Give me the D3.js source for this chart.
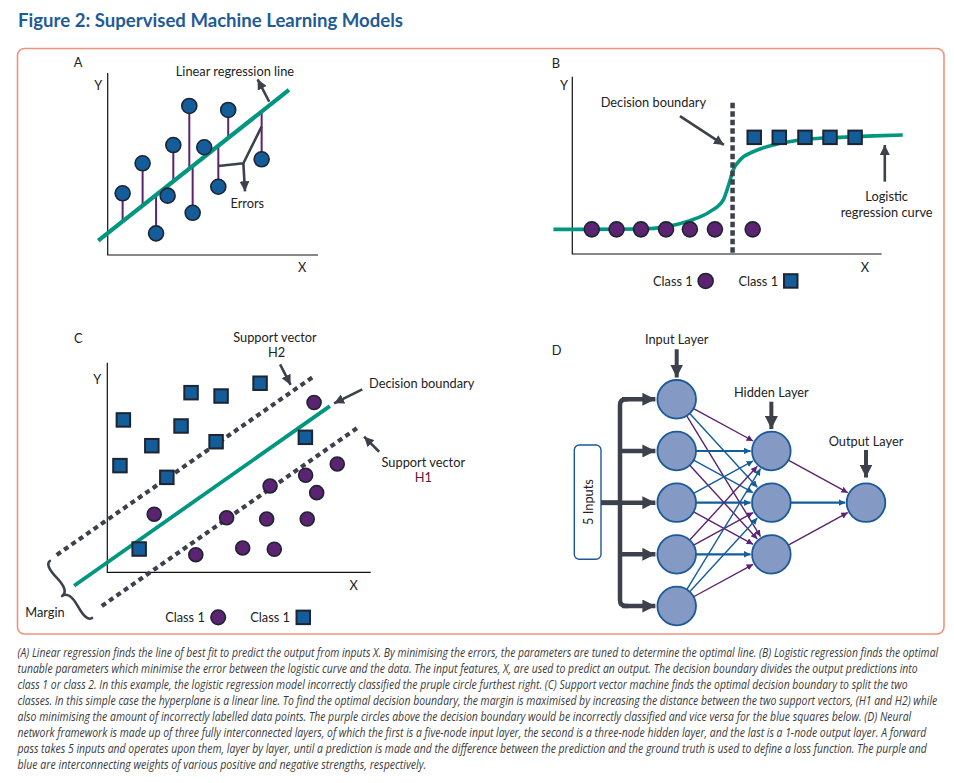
<!DOCTYPE html>
<html><head><meta charset="utf-8">
<script src="https://cdn.jsdelivr.net/npm/d3@7"></script>
<style>
body{margin:0;background:#fff;}
svg text{font-family:Lato,"Open Sans",sans-serif;}
</style></head>
<body>
<svg id="chart" width="954" height="783"></svg>
<script>
// ================= DATA =================
const titleText = "Figure 2: Supervised Machine Learning Models";
const panelLetters = ["A", "B", "C", "D"];

// Panel A – linear regression (data units 0..10)
const aPointsX = [0.71, 1.66, 2.30, 2.85, 3.12, 3.88, 4.04, 4.59, 5.26, 5.73, 7.32];
const aPointsY = [3.39, 5.04, 1.19, 3.26, 6.04, 8.19, 2.32, 5.92, 3.75, 7.97, 5.26];
const aLineRangeX = [-0.45, 8.62];
const aLineIntercept = 1.20;
const aLineSlope = 0.913;

// Panel B – logistic regression
const bCurveX = [-0.61, 0.57, 2.19, 3.05, 3.80, 4.45, 4.88, 5.07, 5.20, 5.42, 5.85, 6.50, 7.58, 8.65, 9.74, 10.68];
const bCurveY = [1.39, 1.39, 1.41, 1.54, 1.88, 2.39, 3.05, 3.99, 4.74, 5.30, 5.77, 6.15, 6.47, 6.58, 6.66, 6.71];
const bCirclesX = [0.63, 1.43, 2.22, 3.03, 3.80, 4.61, 5.83];
const bCirclesY = 1.39;
const bSquaresX = [5.88, 6.69, 7.52, 8.33, 9.14];
const bSquaresY = 6.58;
const bBoundaryX = 5.18;
const bBoundaryTop = 8.53;

// Panel C – support vector machine
const cSquaresX = [0.61, 0.48, 1.69, 2.26, 2.80, 3.18, 4.32, 4.13, 5.80, 7.52, 1.21];
const cSquaresY = [7.27, 5.09, 6.04, 4.53, 6.98, 8.57, 8.41, 6.23, 9.02, 6.44, 1.11];
const cCirclesX = [7.85, 8.73, 7.53, 6.18, 7.95, 1.78, 4.53, 6.05, 7.59, 3.36, 5.14, 6.34];
const cCirclesY = [8.10, 5.17, 4.63, 4.12, 3.80, 2.77, 2.60, 2.54, 2.54, 0.84, 1.16, 1.10];
const cDecisionLine = [[-1.26, -0.64], [8.45, 7.93]];
const cH2Line = [[-1.92, 0.83], [7.82, 9.33]];
const cH1Line = [[-0.21, -1.61], [9.53, 6.92]];

// Panel D – neural network
const layerNames = ["Input Layer", "Hidden Layer", "Output Layer"];
const inputNodes = [0, 1, 2, 3, 4];
const hiddenNodes = [1, 2, 3];
const outputNodes = [2];
// sign of weight: 1 = positive (purple), -1 = negative (blue); rows = input nodes, cols = hidden nodes
const inputHiddenSigns = [
  [1, -1, 1],
  [-1, -1, 1],
  [-1, -1, 1],
  [1, 1, -1],
  [-1, -1, 1]
];
const hiddenOutputSigns = [1, -1, 1];
const inputsLabel = "5 Inputs";

const legendLabels = ["Class 1", "Class 1"];

const captionLines = [
  "(A) Linear regression finds the line of best fit to predict the output from inputs X. By minimising the errors, the parameters are tuned to determine the optimal line. (B) Logistic regression finds the optimal",
  "tunable parameters which minimise the error between the logistic curve and the data. The input features, X, are used to predict an output. The decision boundary divides the output predictions into",
  "class 1 or class 2. In this example, the logistic regression model incorrectly classified the pruple circle furthest right. (C) Support vector machine finds the optimal decision boundary to split the two",
  "classes. In this simple case the hyperplane is a linear line. To find the optimal decision boundary, the margin is maximised by increasing the distance between the two support vectors, (H1 and H2) while",
  "also minimising the amount of incorrectly labelled data points. The purple circles above the decision boundary would be incorrectly classified and vice versa for the blue squares below. (D) Neural",
  "network framework is made up of three fully interconnected layers, of which the first is a five-node input layer, the second is a three-node hidden layer, and the last is a 1-node output layer. A forward",
  "pass takes 5 inputs and operates upon them, layer by layer, until a prediction is made and the difference between the prediction and the ground truth is used to define a loss function. The purple and",
  "blue are interconnecting weights of various positive and negative strengths, respectively."
];
const captionWidths = [922, 901, 891, 921, 894, 910, 910, 409];

// ================= STYLE =================
const C = {
  title: "#1f5b97", border: "#f0937b", green: "#00967f", blue: "#135d9b",
  purple: "#5b2371", outline: "#1e2430", gray: "#3d414b", node: "#8599c5",
  nodeStroke: "#1b5a98", text: "#222", caption: "#3a3a3a", h1: "#5e1a30"
};
const FS = 12.8;

const svg = d3.select("#chart");
const defs = svg.append("defs");
function marker(id, color, size) {
  defs.append("marker").attr("id", id).attr("viewBox", "0 0 10 10")
    .attr("refX", 10).attr("refY", 5).attr("markerUnits", "userSpaceOnUse")
    .attr("markerWidth", size).attr("markerHeight", size).attr("orient", "auto")
    .append("path").attr("d", "M0,0 L10,5 L0,10 z").attr("fill", color);
}
marker("agray", C.gray, 10);
marker("agrayBig", C.gray, 13);
marker("apos", C.purple, 6.5);
marker("aneg", C.blue, 6.5);

function label(x, y, t, opts = {}) {
  return svg.append("text").attr("x", x).attr("y", y).text(t)
    .attr("font-size", opts.size || FS).attr("fill", opts.color || C.text)
    .attr("text-anchor", opts.anchor || "middle").attr("dominant-baseline", "central");
}

// Title
svg.append("text").attr("x", 18).attr("y", 26.5).text(titleText)
  .attr("font-size", 18).attr("font-weight", "bold").attr("fill", C.title)
  .attr("textLength", 385).attr("lengthAdjust", "spacingAndGlyphs");

// Border
svg.append("rect").attr("x", 17.5).attr("y", 48.5).attr("width", 926.5).attr("height", 585.5)
  .attr("rx", 7).attr("fill", "none").attr("stroke", C.border).attr("stroke-width", 1.6);

function axes(x, y) {
  svg.append("path").attr("d", `M${x(0)},${y(10)} V${y(0)} H${x(10)}`)
    .attr("fill", "none").attr("stroke", "#111").attr("stroke-width", 1.2);
}
function arrow(x1, y1, x2, y2, w = 2.6, m = "agray") {
  svg.append("line").attr("x1", x1).attr("y1", y1).attr("x2", x2).attr("y2", y2)
    .attr("stroke", C.gray).attr("stroke-width", w).attr("marker-end", `url(#${m})`);
}
function circles(data, x, y, r) {
  svg.append("g").selectAll("circle").data(data).join("circle")
    .attr("cx", d => x(d[0])).attr("cy", d => y(d[1])).attr("r", r)
    .attr("fill", d => d[2]).attr("stroke", C.outline).attr("stroke-width", 1.6);
}
function squares(data, x, y, s) {
  svg.append("g").selectAll("rect").data(data).join("rect")
    .attr("x", d => x(d[0]) - s / 2).attr("y", d => y(d[1]) - s / 2)
    .attr("width", s).attr("height", s)
    .attr("fill", C.blue).attr("stroke", C.outline).attr("stroke-width", 2);
}

// ================= PANEL A =================
{
  const x = d3.scaleLinear().domain([0, 10]).range([107.7, 318]);
  const y = d3.scaleLinear().domain([0, 10]).range([255, 73]);
  label(78, 62, panelLetters[0]);
  label(x(-0.45), y(9.35), "Y");
  label(x(9.25), y(-0.65), "X");
  axes(x, y);
  const fit = v => aLineIntercept + aLineSlope * v;
  svg.append("g").selectAll("line").data(aPointsX).join("line")
    .attr("x1", d => x(d)).attr("x2", d => x(d))
    .attr("y1", (d, i) => y(aPointsY[i])).attr("y2", d => y(fit(d)))
    .attr("stroke", C.purple).attr("stroke-width", 2);
  svg.append("line").attr("x1", x(aLineRangeX[0])).attr("y1", y(fit(aLineRangeX[0])))
    .attr("x2", x(aLineRangeX[1])).attr("y2", y(fit(aLineRangeX[1])))
    .attr("stroke", C.green).attr("stroke-width", 4.2);
  circles(aPointsX.map((d, i) => [d, aPointsY[i], C.blue]), x, y, 7.5);
  label(x(6.05), y(10.13), "Linear regression line");
  arrow(x(7.68), y(8.42), x(7.13), y(9.65));
  svg.append("path").attr("d", `M${x(5.26)},${y(4.89)} L${x(6.45)},${y(5.04)} L${x(7.32)},${y(7.05)}`)
    .attr("fill", "none").attr("stroke", C.gray).attr("stroke-width", 2.6);
  arrow(x(6.45), y(5.04), x(6.53), y(3.50));
  label(x(6.64), y(2.84), "Errors");
}

// ================= PANEL B =================
{
  const x = d3.scaleLinear().domain([0, 10]).range([572.3, 881.7]);
  const y = d3.scaleLinear().domain([0, 10]).range([254, 76.7]);
  label(556, 62.5, panelLetters[1]);
  label(x(-0.27), y(9.53), "Y");
  label(x(9.46), y(-0.75), "X");
  axes(x, y);
  svg.append("path").datum(bCurveX.map((d, i) => [d, bCurveY[i]]))
    .attr("d", d3.line().x(d => x(d[0])).y(d => y(d[1])).curve(d3.curveMonotoneX))
    .attr("fill", "none").attr("stroke", C.green).attr("stroke-width", 3.6);
  svg.append("line").attr("x1", x(bBoundaryX)).attr("x2", x(bBoundaryX))
    .attr("y1", y(bBoundaryTop)).attr("y2", y(0))
    .attr("stroke", C.gray).attr("stroke-width", 4.5).attr("stroke-dasharray", "5.5,3");
  circles(bCirclesX.map(d => [d, bCirclesY, C.purple]), x, y, 7.5);
  squares(bSquaresX.map(d => [d, bSquaresY]), x, y, 13.5);
  label(x(2.62), y(8.56), "Decision boundary");
  arrow(x(3.48), y(7.78), x(4.90), y(6.15));
  arrow(x(10.10), y(4.08), x(10.10), y(6.15));
  label(x(10.16), y(3.29), "Logistic");
  label(x(10.16), y(2.39), "regression curve");
  label(x(3.25), y(-1.52), legendLabels[0]);
  circles([[4.31, -1.52, C.purple]], x, y, 7.5);
  label(x(6.01), y(-1.52), legendLabels[1]);
  squares([[7.06, -1.52]], x, y, 13.5);
}

// ================= PANEL C =================
{
  const x = d3.scaleLinear().domain([0, 10]).range([107.3, 370.7]);
  const y = d3.scaleLinear().domain([0, 10]).range([572.3, 362.7]);
  label(78.3, 338.3, panelLetters[2]);
  label(x(-0.38), y(9.2), "Y");
  label(x(9.35), y(-0.61), "X");
  axes(x, y);
  const seg = (l, color, dash, w) => svg.append("line")
    .attr("x1", x(l[0][0])).attr("y1", y(l[0][1])).attr("x2", x(l[1][0])).attr("y2", y(l[1][1]))
    .attr("stroke", color).attr("stroke-width", w).attr("stroke-dasharray", dash);
  seg(cH2Line, C.gray, "5,4", 4.2);
  seg(cH1Line, C.gray, "5,4", 4.2);
  seg(cDecisionLine, C.green, null, 3.8);
  squares(cSquaresX.map((d, i) => [d, cSquaresY[i]]), x, y, 13.5);
  circles(cCirclesX.map((d, i) => [d, cCirclesY[i], C.purple]), x, y, 7);
  label(275, 336.7, "Support vector");
  label(276.7, 351.7, "H2");
  arrow(x(6.56), y(9.92), x(6.96), y(8.94));
  label(421.7, 382.7, "Decision boundary");
  arrow(x(9.68), y(8.73), x(8.61), y(8.06));
  label(423.3, 461.7, "Support vector");
  label(423.3, 476.7, "H1", { color: C.h1 });
  arrow(x(10.32), y(5.75), x(9.75), y(6.47));
  // margin brace
  const bx1 = x(-2.18), by1 = y(0.54), bx2 = x(-0.58), by2 = y(-2.18);
  const w = 11, q = 0.6;
  let dx = bx1 - bx2, dy = by1 - by2; const len = Math.hypot(dx, dy); dx /= len; dy /= len;
  const qx1 = bx1 + q * w * dy, qy1 = by1 - q * w * dx;
  const qx2 = (bx1 - .25 * len * dx) + (1 - q) * w * dy, qy2 = (by1 - .25 * len * dy) - (1 - q) * w * dx;
  const tx1 = (bx1 - .5 * len * dx) + w * dy, ty1 = (by1 - .5 * len * dy) - w * dx;
  const qx3 = bx2 + q * w * dy, qy3 = by2 - q * w * dx;
  const qx4 = (bx1 - .75 * len * dx) + (1 - q) * w * dy, qy4 = (by1 - .75 * len * dy) - (1 - q) * w * dx;
  svg.append("path")
    .attr("d", `M${bx1},${by1} Q${qx1},${qy1} ${qx2},${qy2} T${tx1},${ty1} M${bx2},${by2} Q${qx3},${qy3} ${qx4},${qy4} T${tx1},${ty1}`)
    .attr("fill", "none").attr("stroke", C.gray).attr("stroke-width", 2.6).attr("stroke-linecap", "round");
  label(45, 611.7, "Margin");
  label(x(2.95), y(-2.15), legendLabels[0]);
  circles([[4.21, -2.15, C.purple]], x, y, 7.3);
  label(x(6.18), y(-2.15), legendLabels[1]);
  squares([[7.44, -2.15]], x, y, 13.5);
}

// ================= PANEL D =================
{
  const lx = d3.scalePoint().domain(layerNames).range([676.7, 866]);
  const ny = d3.scaleLinear().domain([0, 4]).range([399.3, 606]);
  const r = 19.3;
  label(556.7, 350, panelLetters[3]);
  const nodes = [
    ...inputNodes.map(i => ({ layer: layerNames[0], i })),
    ...hiddenNodes.map(i => ({ layer: layerNames[1], i })),
    ...outputNodes.map(i => ({ layer: layerNames[2], i }))
  ];
  const links = [];
  inputNodes.forEach((a, ia) => hiddenNodes.forEach((b, ib) =>
    links.push({ s: [lx(layerNames[0]), ny(a)], t: [lx(layerNames[1]), ny(b)], sign: inputHiddenSigns[ia][ib] })));
  hiddenNodes.forEach((b, ib) =>
    links.push({ s: [lx(layerNames[1]), ny(b)], t: [lx(layerNames[2]), ny(outputNodes[0])], sign: hiddenOutputSigns[ib] }));
  svg.append("g").selectAll("line").data(links).join("line")
    .each(function (d) {
      const dx = d.t[0] - d.s[0], dy = d.t[1] - d.s[1], L = Math.hypot(dx, dy);
      d3.select(this).attr("x1", d.s[0] + dx / L * r).attr("y1", d.s[1] + dy / L * r)
        .attr("x2", d.t[0] - dx / L * (r + 1.5)).attr("y2", d.t[1] - dy / L * (r + 1.5));
    })
    .attr("stroke", d => d.sign > 0 ? C.purple : C.blue)
    .attr("stroke-width", d => d.s[1] === d.t[1] ? 2.2 : 1.4)
    .attr("marker-end", d => d.sign > 0 ? "url(#apos)" : "url(#aneg)");
  svg.append("rect").attr("x", 574.3).attr("y", 445).attr("width", 26.7).attr("height", 114.3)
    .attr("rx", 5).attr("fill", "#fff").attr("stroke", C.nodeStroke).attr("stroke-width", 1.4);
  svg.append("text").attr("transform", `translate(588,502) rotate(-90)`).text(inputsLabel)
    .attr("font-size", FS).attr("fill", C.text).attr("text-anchor", "middle").attr("dominant-baseline", "central");
  const barX = 620, tipX = lx(layerNames[0]) - r - 2;
  svg.append("line").attr("x1", 601).attr("x2", barX).attr("y1", ny(2)).attr("y2", ny(2))
    .attr("stroke", C.gray).attr("stroke-width", 5);
  svg.append("path")
    .attr("d", `M${barX + 8},${ny(0)} H${barX + 6} Q${barX},${ny(0)} ${barX},${ny(0) + 6} V${ny(4) - 6} Q${barX},${ny(4)} ${barX + 6},${ny(4)} H${barX + 8}`)
    .attr("fill", "none").attr("stroke", C.gray).attr("stroke-width", 4.5);
  inputNodes.forEach(i => {
    svg.append("line").attr("x1", barX + 2).attr("x2", tipX).attr("y1", ny(i)).attr("y2", ny(i))
      .attr("stroke", C.gray).attr("stroke-width", 4.5).attr("marker-end", "url(#agrayBig)");
  });
  svg.append("g").selectAll("circle").data(nodes).join("circle")
    .attr("cx", d => lx(d.layer)).attr("cy", d => ny(d.i)).attr("r", r)
    .attr("fill", C.node).attr("stroke", C.nodeStroke).attr("stroke-width", 1.8);
  const labelY = [339.3, 391.7, 440.7];
  const arrowY = [[349.3, 377.5], [401.7, 429], [450, 477.5]];
  layerNames.forEach((n, k) => {
    label(lx(n), labelY[k], n);
    arrow(lx(n), arrowY[k][0], lx(n), arrowY[k][1], 4, "agrayBig");
  });
}

// ================= CAPTION =================
// each line drawn at natural width, then condensed horizontally to the measured width
captionLines.forEach((line, i) => {
  const g = svg.append("g");
  const t = g.append("text").attr("x", 0).attr("y", 0).text(line)
    .attr("font-size", 12).attr("font-style", "italic").attr("fill", C.caption)
    .style("font-family", "'Open Sans',sans-serif");
  const natural = t.node().getComputedTextLength();
  const k = captionWidths[i] / natural;
  g.attr("transform", `translate(17.5,${657 + i * 16}) scale(${k},1)`);
});
</script>
</body></html>
